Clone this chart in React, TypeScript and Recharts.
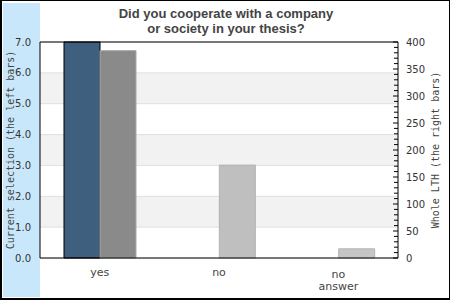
import { Bar, BarChart, CartesianGrid, Cell, ReferenceLine, XAxis, YAxis } from 'recharts';

const answers = ['yes', 'no', 'no answer'];
const currentSelection = [7, 0, 0];
const wholeLth = [384, 172, 17];

const leftTicks = [0, 1, 2, 3, 4, 5, 6, 7];
const rightTicks = [
  0, 10, 20, 30, 40, 50, 60, 70, 80, 90, 100, 110, 120, 130, 140, 150, 160, 170, 180, 190, 200,
  210, 220, 230, 240, 250, 260, 270, 280, 290, 300, 310, 320, 330, 340, 350, 360, 370, 380, 390, 400,
];

const data = answers.map((name, i) => ({
  name,
  current: currentSelection[i],
  whole: wholeLth[i],
}));

const wholeFill = ['#8a8a8a', '#bfbfbf', '#c6c6c6'];
const wholeStroke = ['#a8a8a8', '#b3b3b3', '#b3b3b3'];

const sans = '"DejaVu Sans", sans-serif';
const mono = '"DejaVu Sans Mono", monospace';

function CategoryTick({ x, y, payload }: any) {
  const lines = String(payload.value).split(' ');
  const first = lines.length > 1 ? 20 : 18;
  return (
    <text x={x} y={y} textAnchor="middle" fill="#444" fontSize={11} fontFamily={sans}>
      {lines.map((l, i) => (
        <tspan key={i} x={x} dy={i === 0 ? first : 12}>
          {l}
        </tspan>
      ))}
    </text>
  );
}

function RightTick({ x, y, payload }: any) {
  const major = payload.value % 50 === 0;
  return (
    <g>
      <line x1={x - (major ? 5 : 4)} x2={x} y1={y} y2={y} stroke="#000" />
      {major && (
        <text x={x + 8} y={y} dy={4} fill="#333" fontSize={10} fontFamily={sans}>
          {payload.value}
        </text>
      )}
    </g>
  );
}

function SideLabel({ viewBox, text, dx }: any) {
  const cx = viewBox.x + dx;
  const cy = viewBox.y + viewBox.height / 2;
  return (
    <text
      transform={`translate(${cx},${cy}) rotate(-90)`}
      textAnchor="middle"
      dy={4}
      fill="#444"
      fontSize={10}
      fontFamily={mono}
    >
      {text}
    </text>
  );
}

export default function App() {
  return (
    <div
      style={{
        position: 'absolute',
        left: 0,
        top: 0,
        width: 450,
        height: 300,
        boxSizing: 'border-box',
        border: '1px solid #000',
        borderLeftWidth: 2,
        borderBottomWidth: 2,
        background: '#fff',
        overflow: 'hidden',
      }}
    >
      <div
        style={{
          position: 'absolute',
          left: 1,
          top: 2,
          width: 37,
          height: 294,
          background: '#c9e7fb',
        }}
      />
      <div
        style={{
          position: 'absolute',
          left: 0,
          top: 5,
          width: 448,
          textAlign: 'center',
          font: 'bold 13px "Liberation Sans", Arial, sans-serif',
          lineHeight: '15px',
          color: '#444',
        }}
      >
        Did you cooperate with a company
        <br />
        or society in your thesis?
      </div>
      <div style={{ position: 'absolute', left: -2, top: -1 }}>
        <BarChart
          width={450}
          height={300}
          data={data}
          margin={{ top: 42, right: 0, bottom: 0, left: 0 }}
          barGap={0}
          barSize={36}
        >
          <CartesianGrid
            yAxisId="left"
            vertical={false}
            stroke="#e0e0e0"
            horizontalFill={['#ffffff', '#f2f2f2']}
            fillOpacity={1}
          />
          <XAxis
            dataKey="name"
            height={42}
            tickSize={0}
            tickMargin={0}
            tickLine={false}
            axisLine={{ stroke: '#000' }}
            tick={<CategoryTick />}
            interval={0}
          />
          <YAxis
            yAxisId="left"
            width={40}
            domain={[0, 7]}
            ticks={leftTicks}
            interval={0}
            tickSize={0}
            tickMargin={9}
            tickLine={false}
            axisLine={{ stroke: '#000' }}
            tickFormatter={(v: number) => v.toFixed(1)}
            tick={{ fill: '#333', fontSize: 10, fontFamily: sans }}
            label={{ content: (p: any) => <SideLabel {...p} text="Current selection (the left bars)" dx={10} /> }}
          />
          <YAxis
            yAxisId="right"
            orientation="right"
            width={52}
            domain={[0, 400]}
            ticks={rightTicks}
            interval={0}
            tickSize={0}
            tickMargin={0}
            tickLine={false}
            axisLine={{ stroke: '#000' }}
            tick={<RightTick />}
            label={{ content: (p: any) => <SideLabel {...p} text="Whole LTH (the right bars)" dx={37} /> }}
          />
          <ReferenceLine yAxisId="left" y={7} stroke="#000" />
          <Bar yAxisId="left" dataKey="current" fill="#3f5f7f" stroke="#000" isAnimationActive={false} />
          <Bar yAxisId="right" dataKey="whole" isAnimationActive={false}>
            {data.map((d, i) => (
              <Cell key={d.name} fill={wholeFill[i]} stroke={wholeStroke[i]} />
            ))}
          </Bar>
        </BarChart>
      </div>
    </div>
  );
}
